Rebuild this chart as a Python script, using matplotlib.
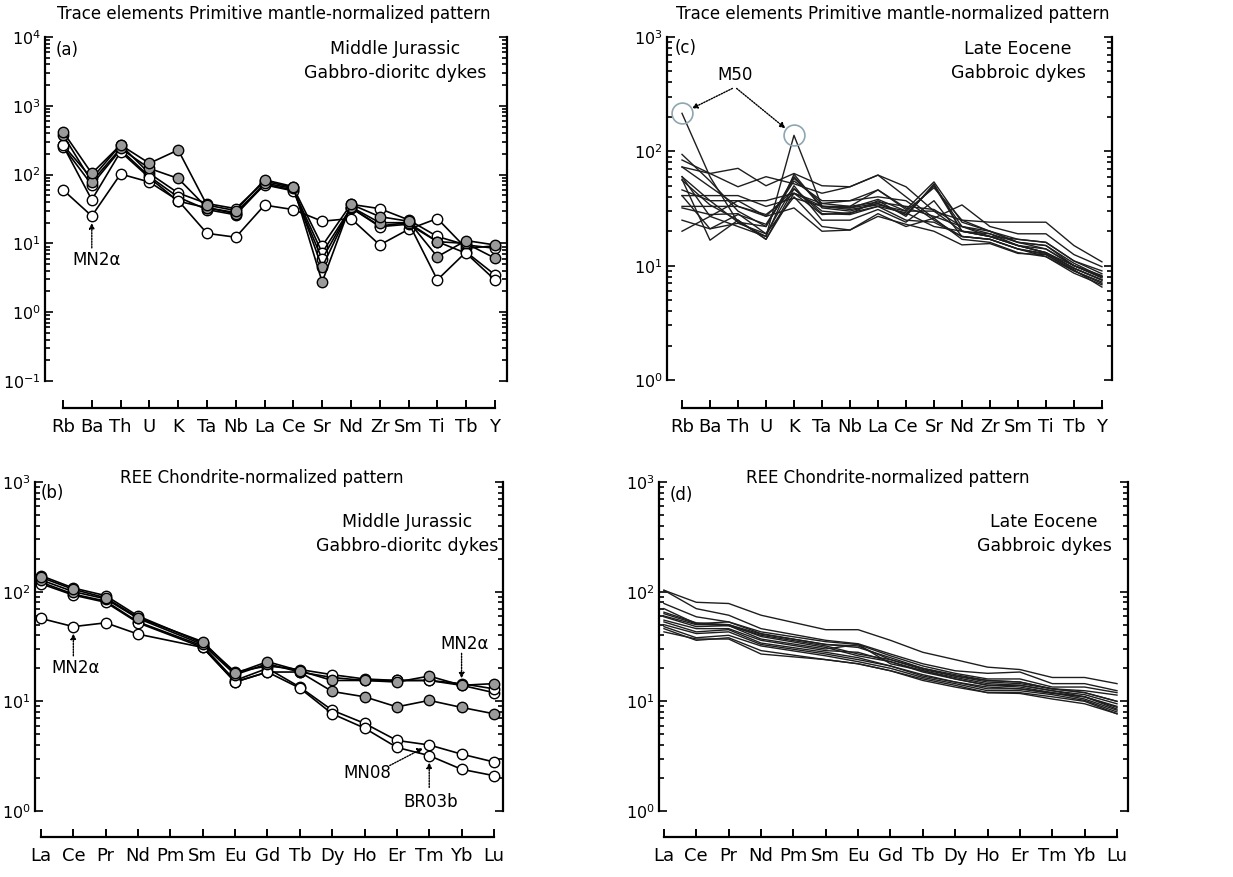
import numpy as np
import matplotlib
matplotlib.use('Agg')
import matplotlib.pyplot as plt

# element lists
trace_el = ['Rb', 'Ba', 'Th', 'U', 'K', 'Ta', 'Nb', 'La', 'Ce', 'Sr', 'Nd', 'Zr', 'Sm', 'Ti', 'Tb', 'Y']
ree_el = ['La', 'Ce', 'Pr', 'Nd', 'Pm', 'Sm', 'Eu', 'Gd', 'Tb', 'Dy', 'Ho', 'Er', 'Tm', 'Yb', 'Lu']
nan = np.nan

# (a) Middle Jurassic, primitive-mantle normalized
mj_tr_g1 = [421, 104, 270, 146, 228, 36, 30, 84, 67, 2.75, 37, 24.5, 21, 6.4, 11, 9.5]
mj_tr_g2 = [377, 79, 240, 123, 88, 33, 27, 75, 63, 4.5, 34, 20, 20, 10.6, 10, 6.1]
mj_tr_mn2a = [60, 25, 102, 78, 42, 14, 12.3, 36, 31, 21, 23, 9.5, 16, 23, 8.5, 9.2]
mj_tr_w2 = [270, 88, 270, 104, 54, 38, 32, 80, 65, 9.2, 37, 32, 22, 12.6, 9.5, 8.5]
mj_tr_mn08 = [255, 71, 230, 94, 47, 31, 26, 72, 60, 7.3, 33, 18, 20, 2.95, 7.5, 3.5]
mj_tr_br03b = [265, 43, 215, 90, 41, 33, 28, 71, 58, 5.9, 33, 17.5, 19, 10.6, 7.2, 2.95]

# (b) Middle Jurassic, chondrite normalized REE
mj_ree_g1 = [135, 105, 88, 58, nan, 35, 18, 23, 19, 15.5, 15.5, 15, 17, 14, 14.5]
mj_ree_g2 = [128, 100, 86, 57, nan, 33, 17.5, 22, 18.5, 12.3, 11, 8.9, 10.2, 8.8, 7.7]
mj_ree_mn2a = [57, 48, 52, 41, nan, 31, 15, 18.5, 18.5, 16.5, 15.5, 15.5, 15.5, 14, 12]
mj_ree_w2 = [140, 108, 92, 60, nan, 34, 18.5, 21, 19.5, 17.5, 16, 15.5, 15.5, 14.5, 13]
mj_ree_mn08 = [122, 95, 82, 53, nan, 32, 15.5, 20, 13.5, 8.3, 6.3, 4.4, 4.0, 3.3, 2.8]
mj_ree_br03b = [118, 93, 80, 52, nan, 31, 15, 18.5, 13.2, 7.7, 5.7, 3.8, 3.2, 2.4, 2.1]

# (c) Late Eocene, primitive-mantle normalized
le_tr_m50 = [215, 60, 24, 18, 138, 33, 32, 38, 30, 30, 20, 18, 15, 13, 9.5, 7.5]
le_tr = [
    [94, 55, 30, 22, 60, 33, 32, 35, 28, 50, 22, 19, 15, 13, 10, 8],
    [84, 64, 71, 50, 64, 50, 49, 62, 49, 30, 25, 24, 24, 24, 15, 10.8],
    [73, 64, 49, 60, 52, 43, 49, 62, 40, 26, 34, 22, 19, 19, 12.5, 9.8],
    [60, 37, 24, 22, 58, 35, 33, 46, 31, 54, 24, 20, 17, 16, 11, 8.5],
    [56, 34, 25, 17, 47, 30, 28.5, 37, 27, 52, 20, 18, 15, 14, 10, 8],
    [46, 37, 37, 37, 43, 35, 37, 40, 37, 25, 18, 17, 14, 12.5, 9, 7.2],
    [41, 41, 41, 33, 39, 33, 33, 36, 33, 31, 22, 20, 16, 14, 10, 7.8],
    [33, 33, 33, 27, 47, 28.5, 28, 33, 29, 22, 20, 18, 15, 13, 9.5, 7.5],
    [32, 28, 28.5, 19, 50, 25, 25, 31, 24, 37, 18, 17, 14, 12, 9, 7],
    [25, 21, 23.5, 19, 40, 22, 20.5, 28.5, 22, 26, 17, 16, 13, 12, 8.6, 6.8],
    [20, 27, 37, 27, 32, 20, 20.5, 27, 23, 20, 15.2, 15.6, 12.8, 12.5, 9.2, 6.5],
    [57, 16.7, 25, 17, 43, 28, 29, 33, 25, 24, 18, 17, 14, 12.8, 9.5, 7.5],
    [60, 27, 22, 18, 63, 32, 30, 35, 28, 50, 20, 19, 16, 15, 10.5, 8],
    [41, 21, 28, 23, 55, 37, 37, 46, 32, 27, 22, 18, 17, 16, 11, 9],
    [73, 49, 33, 28, 43, 33, 31, 34, 30, 48, 25, 20, 16, 15, 10, 8.2],
]

# (d) Late Eocene, chondrite normalized REE
le_ree = [
    [103, 80, 78, 61, nan, 45, 45, 36, 28, 24, 20.5, 19.5, 16.5, 16.5, 14.5],
    [103, 70, 61, 46, nan, 36, 33.5, 27, 22, 19, 18, 18.5, 14.5, 14.5, 12.5],
    [78, 59, 53, 43, nan, 35, 33, 26, 21, 18, 16, 16, 13.5, 13.5, 12],
    [70, 51, 53, 41.5, nan, 33, 32, 24, 20, 17, 15.5, 15, 13, 12.5, 11.4],
    [63, 51, 49, 40, nan, 32, 27, 24, 19.5, 17, 15, 14.5, 13, 12, 10],
    [59, 48, 49, 37, nan, 30, 33, 22, 19, 16.5, 14.5, 14, 12.5, 11.5, 9.5],
    [55, 46, 46, 36, nan, 29, 28, 23, 18.5, 16, 14, 13.5, 12, 11, 9],
    [53, 43, 45, 34, nan, 28, 25, 21, 17, 15, 13, 13, 11.8, 11, 8.5],
    [50, 41.5, 43, 33, nan, 27, 24, 21, 17.5, 15, 13.5, 13, 12, 10.5, 8.3],
    [48, 38, 40, 32, nan, 26, 23, 20, 16.5, 14.5, 12.5, 12.5, 11.5, 10.2, 8],
    [46, 36, 38, 29, nan, 24, 22, 19, 16, 14, 12, 12, 11, 10, 7.7],
    [43, 37, 37, 27, nan, 24, 22, 19, 15.5, 13.5, 12, 11.8, 10.5, 9.5, 7.7],
    [60, 50, 50, 39, nan, 31, 26, 23, 19, 16, 14, 14, 12.5, 11, 8.8],
    [65, 52, 50, 41, nan, 33, 31, 25, 20, 17.5, 15.5, 15, 13, 12, 10],
]

W, H = 1233, 877
fig = plt.figure(figsize=(W / 100, H / 100), dpi=100)
grey = '#9a9a9a'


def make_axes(l, r, t, b, ylim, xlim, labels, off):
    ax = fig.add_axes([l / W, 1 - b / H, (r - l) / W, (b - t) / H])
    ax.set_yscale('log')
    ax.set_ylim(*ylim)
    ax.set_xlim(*xlim)
    ax.spines['top'].set_visible(False)
    ax.spines['bottom'].set_position(('outward', off * 0.72))
    ax.spines['bottom'].set_bounds(0, len(labels) - 1)
    for s in ['left', 'right', 'bottom']:
        ax.spines[s].set_linewidth(1.6)
    ax.set_xticks(range(len(labels)))
    ax.set_xticklabels(labels)
    ax.tick_params(axis='x', direction='in', length=6, width=1.4, pad=7, labelsize=13)
    ax.tick_params(axis='y', which='both', direction='in', left=True, right=True,
                   width=1.2, labelsize=11.5, pad=3)
    ax.tick_params(axis='y', which='major', length=6)
    ax.tick_params(axis='y', which='minor', length=3.5)
    return ax


def line_pts(ax, y, face):
    y = np.array(y, dtype=float)
    x = np.arange(len(y))
    m = np.isfinite(y)
    ax.plot(x[m], y[m], '-o', color='k', lw=1.2, ms=7.5, mfc=face, mec='k', mew=1)


def thin(ax, y):
    y = np.array(y, dtype=float)
    x = np.arange(len(y))
    m = np.isfinite(y)
    ax.plot(x[m], y[m], '-', color='#1e1e1e', lw=1.0)


dotted = dict(arrowstyle='-|>', ls=(0, (1, 1)), lw=1, color='k', mutation_scale=8)

# ---- (a)
ax = make_axes(45, 507, 37, 381, (0.1, 1e4), (-0.625, 15.42), trace_el, 27)
for y, f in [(mj_tr_mn2a, 'w'), (mj_tr_w2, 'w'), (mj_tr_mn08, 'w'), (mj_tr_br03b, 'w'),
             (mj_tr_g2, grey), (mj_tr_g1, grey)]:
    line_pts(ax, y, f)
ax.text(0.496, 1.067, 'Trace elements Primitive mantle-normalized pattern', transform=ax.transAxes,
        ha='center', va='center', fontsize=12)
ax.text(0.022, 0.962, '(a)', transform=ax.transAxes, ha='left', va='center', fontsize=12)
ax.text(0.757, 0.965, 'Middle Jurassic', transform=ax.transAxes, ha='center', va='center', fontsize=12.5)
ax.text(0.757, 0.895, 'Gabbro-dioritc dykes', transform=ax.transAxes, ha='center', va='center', fontsize=12.5)
ax.text(1.18, 5.7, 'MN2α', ha='center', va='center', fontsize=12)
ax.annotate('', xy=(1, mj_tr_mn2a[1]), xytext=(1, 8.6), arrowprops=dict(dotted, shrinkA=0, shrinkB=5))

# ---- (c)
ax = make_axes(667, 1112, 37, 380, (1, 1e3), (-0.536, 15.36), trace_el, 28)
for y in le_tr:
    thin(ax, y)
thin(ax, le_tr_m50)
ax.plot([0, 4], [le_tr_m50[0], le_tr_m50[4]], 'o', ms=15, mfc='none', mec='#8ea6b2', mew=1.2)
ax.text(0.508, 1.067, 'Trace elements Primitive mantle-normalized pattern', transform=ax.transAxes,
        ha='center', va='center', fontsize=12)
ax.text(0.018, 0.968, '(c)', transform=ax.transAxes, ha='left', va='center', fontsize=12)
ax.text(0.789, 0.965, 'Late Eocene', transform=ax.transAxes, ha='center', va='center', fontsize=12.5)
ax.text(0.789, 0.895, 'Gabbroic dykes', transform=ax.transAxes, ha='center', va='center', fontsize=12.5)
ax.text(1.9, 466, 'M50', ha='center', va='center', fontsize=12)
ax.annotate('', xy=(0, le_tr_m50[0]), xytext=(1.8, 355), arrowprops=dict(dotted, shrinkA=0, shrinkB=8))
ax.annotate('', xy=(4, le_tr_m50[4]), xytext=(1.95, 355), arrowprops=dict(dotted, shrinkA=0, shrinkB=8))

# ---- (b)
ax = make_axes(35, 503, 482, 811, (1, 1e3), (-0.185, 14.28), ree_el, 26)
for y, f in [(mj_ree_mn2a, 'w'), (mj_ree_w2, 'w'), (mj_ree_mn08, 'w'), (mj_ree_br03b, 'w'),
             (mj_ree_g2, grey), (mj_ree_g1, grey)]:
    line_pts(ax, y, f)
ax.text(0.485, 1.012, 'REE Chondrite-normalized pattern', transform=ax.transAxes,
        ha='center', va='center', fontsize=12)
ax.text(0.011, 0.967, '(b)', transform=ax.transAxes, ha='left', va='center', fontsize=12)
ax.text(0.795, 0.878, 'Middle Jurassic', transform=ax.transAxes, ha='center', va='center', fontsize=12.5)
ax.text(0.795, 0.805, 'Gabbro-dioritc dykes', transform=ax.transAxes, ha='center', va='center', fontsize=12.5)
ax.text(1.08, 20, 'MN2α', ha='center', va='center', fontsize=12)
ax.annotate('', xy=(1, mj_ree_mn2a[1]), xytext=(1, 26), arrowprops=dict(dotted, shrinkA=0, shrinkB=5))
ax.text(13.1, 33, 'MN2α', ha='center', va='center', fontsize=12)
ax.annotate('', xy=(13, mj_ree_mn2a[13]), xytext=(13, 27.4), arrowprops=dict(dotted, shrinkA=0, shrinkB=5))
ax.text(10.1, 2.2, 'MN08', ha='center', va='center', fontsize=12)
ax.annotate('', xy=(12, mj_ree_mn08[12]), xytext=(10.78, 2.6), arrowprops=dict(dotted, shrinkA=0, shrinkB=5))
ax.text(12.05, 1.2, 'BR03b', ha='center', va='center', fontsize=12)
ax.annotate('', xy=(12, mj_ree_br03b[12]), xytext=(12, 1.64), arrowprops=dict(dotted, shrinkA=0, shrinkB=5))

# ---- (d)
ax = make_axes(659, 1128, 482, 811, (1, 1e3), (-0.153, 14.34), ree_el, 26)
for y in le_ree:
    thin(ax, y)
ax.text(0.488, 1.012, 'REE Chondrite-normalized pattern', transform=ax.transAxes,
        ha='center', va='center', fontsize=12)
ax.text(0.023, 0.96, '(d)', transform=ax.transAxes, ha='left', va='center', fontsize=12)
ax.text(0.821, 0.878, 'Late Eocene', transform=ax.transAxes, ha='center', va='center', fontsize=12.5)
ax.text(0.821, 0.805, 'Gabbroic dykes', transform=ax.transAxes, ha='center', va='center', fontsize=12.5)

fig.savefig('out.png', dpi=100)
